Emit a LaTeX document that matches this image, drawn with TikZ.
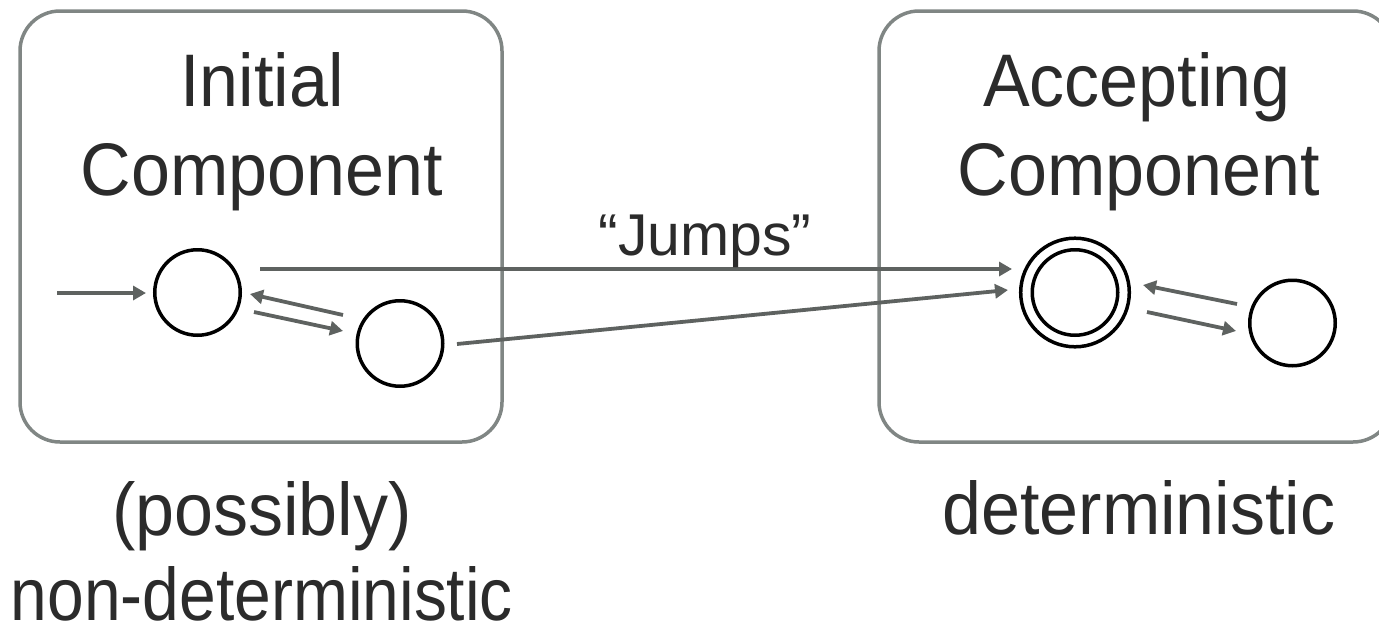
\documentclass[tikz,border=0pt]{standalone}
\usepackage{fontspec}
\setmainfont[FakeStretch=0.94]{Liberation Sans}
\newfontfamily\labelfont{Liberation Sans}
\newfontfamily\narrowfont[FakeStretch=0.885]{Liberation Sans}
\usetikzlibrary{arrows.meta,calc}
\definecolor{boxgray}{RGB}{128,134,132}
\definecolor{arrowgray}{RGB}{94,98,96}
\definecolor{textdark}{RGB}{43,43,43}
\begin{document}
\begin{tikzpicture}[x=1pt,y=-1pt,
  compbox/.style={draw=boxgray,line width=3.5pt,rounded corners=40pt,inner sep=0pt},
  state/.style={draw=black,line width=3.5pt,circle,minimum size=85.5pt,inner sep=0pt},
  bigtext/.style={text=textdark,anchor=base,inner sep=0pt,font=\fontsize{74.5}{88}\selectfont},
  jumptext/.style={text=textdark,anchor=base,inner sep=0pt,font=\labelfont\fontsize{59}{70}\selectfont},
  trans/.style={draw=arrowgray,line width=3.8pt,-{Triangle[length=13pt,width=14pt]}}]
\useasboundingbox (0,0) rectangle (1379,624);
\clip (0,0) rectangle (1379,624);

% component frames
\node[compbox,minimum width=482pt,minimum height=431pt] (initbox) at (261,226.5) {};
\node[compbox,minimum width=514pt,minimum height=431pt] (accbox) at (1136,226.5) {};

% titles
\node[bigtext] (t1) at (262,106) {Initial};
\node[bigtext] (t2) at (262,195) {Component};
\node[bigtext] (t3) at (1137,106) {Accepting};
\node[bigtext] (t4) at (1139,195) {Component};

% captions below the frames
\node[bigtext] (c1) at (262,535) {(possibly)};
\node[bigtext,font=\narrowfont\fontsize{74.5}{88}\selectfont] (c2) at (262,620) {non-deterministic};
\node[bigtext] (c3) at (1139,534) {deterministic};

% states
\node[state] (q0) at (197.5,292.5) {};
\node[state] (q1) at (400,343.5) {};
\node[state] (acc) at (1075,292.5) {};
\draw[black,line width=3.5pt] (acc) circle (54.3pt);
\node[state] (r1) at (1292.5,323) {};

% initial arrow
\coordinate (start) at (57,293);
\draw[trans] (start) -- ($(q0)+(-51.5,0.5)$);

% transitions inside the initial component
\draw[trans] ($(q0)+(56.5,19.5)$) -- ($(q1)+(-57,-12.5)$);
\draw[trans] ($(q1)+(-57,-28.5)$) -- ($(q0)+(52.5,1.5)$);

% jumps into the accepting component
\draw[trans] ($(q0)+(62.5,-23.5)$) -- ($(acc)+(-63,-23.5)$);
\draw[trans] ($(q1)+(57,0.5)$) -- ($(acc)+(-67,-2.5)$);
\node[jumptext] (jl) at (705,255) {“Jumps”};

% transitions inside the accepting component
\draw[trans] ($(acc)+(72,19.5)$) -- ($(r1)+(-56.5,8)$);
\draw[trans] ($(r1)+(-55.5,-19)$) -- ($(acc)+(68,-7.5)$);
\end{tikzpicture}
\end{document}
